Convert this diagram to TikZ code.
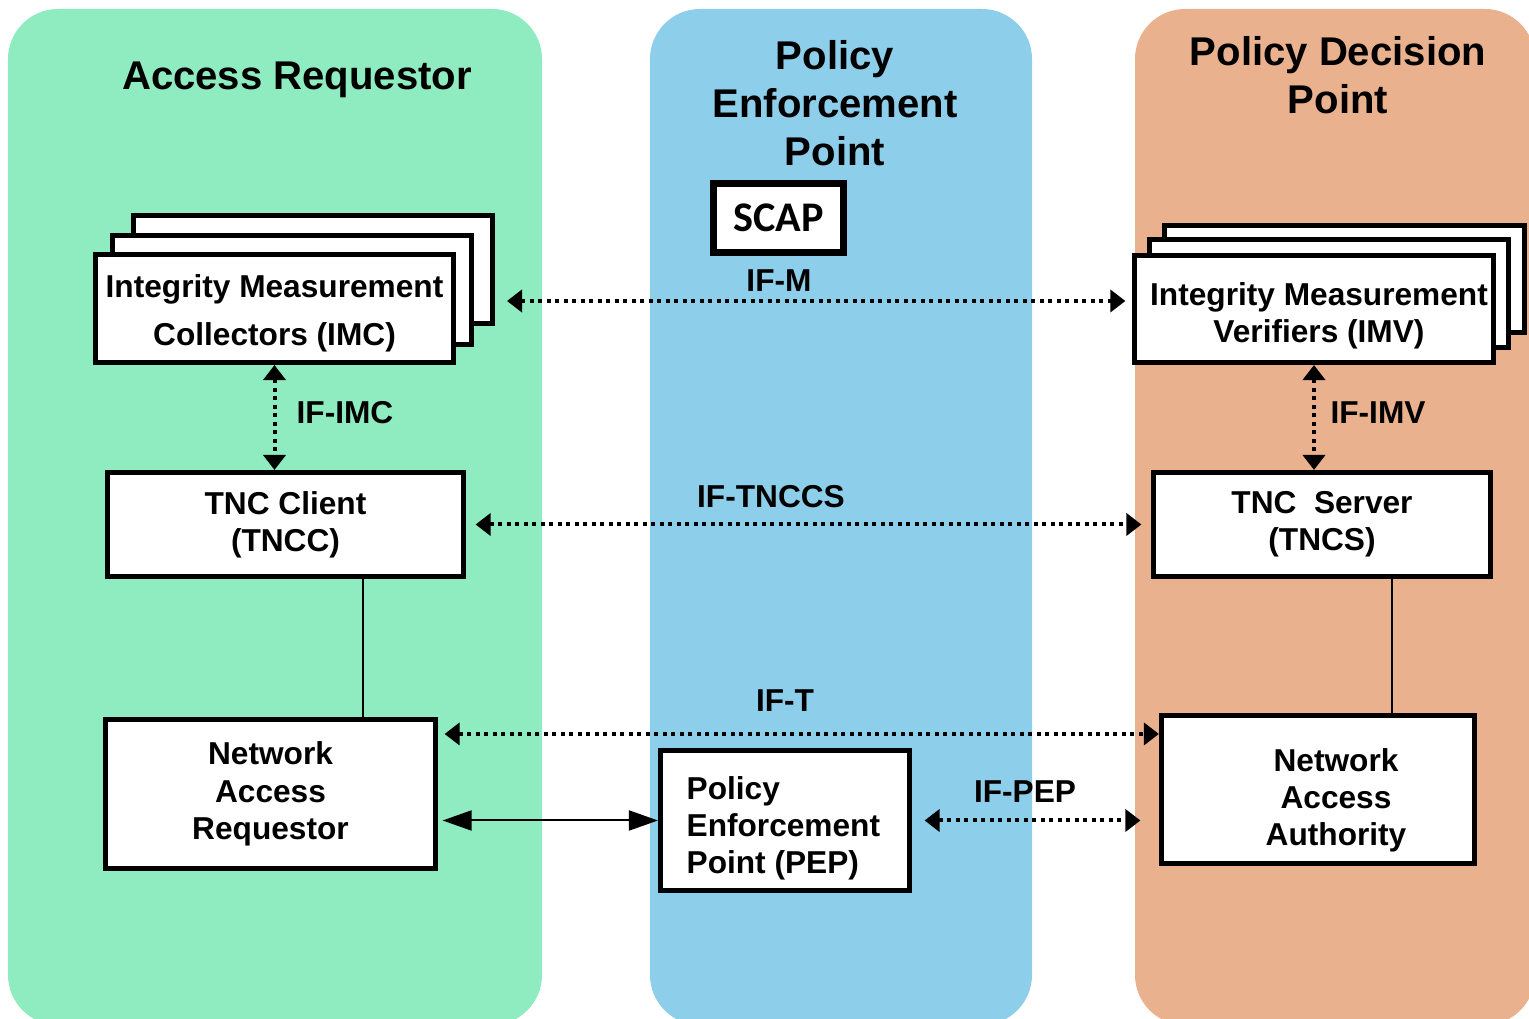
\documentclass[tikz,border=0pt]{standalone}
\usepackage{fontspec}
\setmainfont{Liberation Sans}
\newfontfamily\scapfont{Carlito}
\usetikzlibrary{arrows.meta}

\definecolor{arGreen}{RGB}{142,236,192}
\definecolor{pepBlue}{RGB}{141,206,234}
\definecolor{pdpOrange}{RGB}{234,177,142}

\tikzset{
  panel/.style={rounded corners=0.5cm},
  title/.style={font=\fontsize{11.4}{13.6}\selectfont\bfseries, align=center, inner sep=0pt},
  box/.style={draw, line width=0.05cm, fill=white, inner sep=0pt, align=center,
    font=\fontsize{9}{10.6}\selectfont\bfseries},
  iflabel/.style={font=\fontsize{9}{10.6}\selectfont\bfseries, inner sep=0pt},
  dotarrow/.style={line width=0.04cm, dash pattern=on 0.04cm off 0.045cm,
    {Triangle[length=0.15cm,width=0.22cm]}-{Triangle[length=0.15cm,width=0.22cm]}},
  solidarrow/.style={line width=0.02cm,
    {Triangle[length=0.29cm,width=0.2cm]}-{Triangle[length=0.29cm,width=0.2cm]}},
}

\begin{document}
\begin{tikzpicture}[x=0.01cm,y=-0.01cm]
  \useasboundingbox (0,0) rectangle (1529,1019);
  \clip (0,0) rectangle (1529,1019);

  % the three columns
  \fill[panel, arGreen] (8,9) rectangle (542,1025);% access requestor
  \fill[panel, pepBlue] (650,9) rectangle (1032,1025);% enforcement point
  \fill[panel, pdpOrange] (1135,9) rectangle (1535,1025);% decision point

  \node[title] (artitle) at (297,80) {Access Requestor};
  \node[title] (peptitle) at (835,103) {Policy\\Enforcement\\Point};
  \node[title] (pdptitle) at (1338,75) {Policy Decision\\Point};

  \node[box, line width=0.07cm, minimum width=1.30cm, minimum height=0.69cm,
    font=\fontsize{12}{14}\selectfont\scapfont\bfseries] (scap) at (778.5,218) {SCAP};

  % stacked collectors
  \node[box, minimum width=3.58cm, minimum height=1.08cm] (imcback) at (313,269.5) {};
  \node[box, minimum width=3.58cm, minimum height=1.08cm] (imcmid) at (292,290) {};
  \node[box, minimum width=3.58cm, minimum height=1.08cm] (imc) at (274.5,308.5) {};
  \node[iflabel, align=center, font=\fontsize{9}{13.6}\selectfont\bfseries] (imctext)
    at ([yshift=-0.05cm]imc.center) {Integrity Measurement\\Collectors (IMC)};

  % stacked verifiers
  \node[box, minimum width=3.59cm, minimum height=1.07cm] (imvback) at (1344.5,279) {};
  \node[box, minimum width=3.59cm, minimum height=1.07cm] (imvmid) at (1329,293.5) {};
  \node[box, minimum width=3.59cm, minimum height=1.07cm] (imv) at (1314,309) {};
  \node[iflabel, align=center] (imvtext) at ([xshift=0.05cm,yshift=-0.07cm]imv.center)
    {Integrity Measurement\\Verifiers (IMV)};

  \node[box, minimum width=3.56cm, minimum height=1.04cm] (tncc) at (285.5,524.5) {TNC Client\\(TNCC)};
  \node[box, minimum width=3.37cm, minimum height=1.04cm] (tncs) at (1322,524.5) {TNC~~Server\\(TNCS)};

  \node[box, minimum width=3.30cm, minimum height=1.49cm] (nar) at (270.5,794) {Network\\Access\\Requestor};
  \node[box, minimum width=2.49cm, minimum height=1.40cm] (pep) at (785,820.5) {};
  \node[iflabel, align=left, anchor=west] (peptext) at ([xshift=0.28cm,yshift=-0.08cm]pep.west)
    {Policy\\Enforcement\\Point (PEP)};
  \node[box, minimum width=3.13cm, minimum height=1.48cm] (naa) at (1318,789.5) {};
  \node[iflabel, align=center] (naatext) at ([xshift=0.18cm,yshift=-0.11cm]naa.center)
    {Network\\Access\\Authority};

  % interfaces
  \coordinate (ifmstart) at (507,301);
  \draw[dotarrow, shorten >=0.065cm] (ifmstart) -- (ifmstart -| imv.west);% IF-M
  \draw[dotarrow] (imc.south) -- (imc.south |- tncc.north);% IF-IMC
  \draw[dotarrow] (imv.south) -- (imv.south |- tncs.north);% IF-IMV
  \draw[dotarrow, shorten <=0.095cm, shorten >=0.095cm] (tncc.east) -- (tncs.west);% IF-TNCCS

  \coordinate (tnccfoot) at ([xshift=0.775cm]tncc.south);
  \coordinate (tncsfoot) at ([xshift=0.70cm]tncs.south);
  \draw[line width=0.02cm] (tnccfoot) -- (tnccfoot |- nar.north);
  \draw[line width=0.02cm] (tncsfoot) -- (tncsfoot |- naa.north);

  \coordinate (iftstart) at ([yshift=0.6cm]nar.east);
  \draw[dotarrow, shorten <=0.065cm] (iftstart) -- (iftstart -| naa.west);% IF-T
  \draw[solidarrow, shorten <=0.045cm] (pep.west -| nar.east) -- (pep.west);
  \draw[dotarrow, shorten <=0.125cm, shorten >=0.185cm] (pep.east) -- (pep.east -| naa.west);% IF-PEP

  \node[iflabel] (ifm) at (779,281) {IF-M};
  \node[iflabel] (ifimc) at (345,413) {IF-IMC};
  \node[iflabel] (ifimv) at (1378,413) {IF-IMV};
  \node[iflabel] (iftnccs) at (771,497) {IF-TNCCS};
  \node[iflabel] (ift) at (785,701) {IF-T};
  \node[iflabel] (ifpep) at (1025,792) {IF-PEP};
\end{tikzpicture}
\end{document}
